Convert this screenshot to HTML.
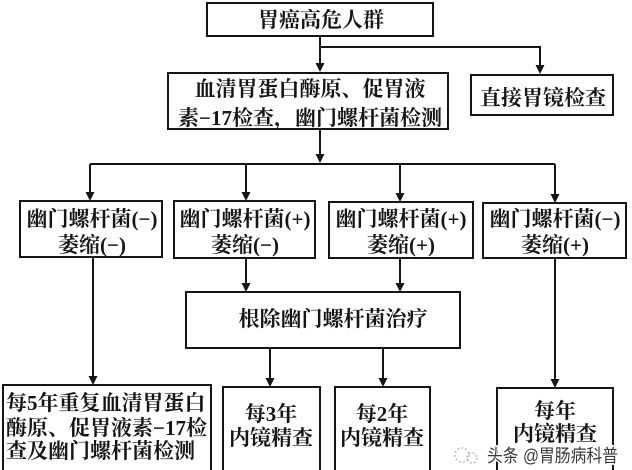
<!DOCTYPE html>
<html>
<head>
<meta charset="utf-8">
<style>
  html, body { margin: 0; padding: 0; background: #fff; }
  body { width: 632px; height: 470px; overflow: hidden; }
  svg { display: block; }
  .t { font-family: "Liberation Serif", "Noto Serif CJK SC", serif; font-size: 21px; font-weight: 700; fill: #151515; }
  .wm { font-family: "Liberation Sans", "Noto Sans CJK SC", sans-serif; font-size: 18px; fill: #3a3a3a; stroke: #fff; stroke-width: 3px; paint-order: stroke; }
</style>
</head>
<body>
<svg width="632" height="470" viewBox="0 0 632 470" xmlns="http://www.w3.org/2000/svg">
  <g fill="none" stroke="#151515" stroke-width="2">
    <!-- boxes -->
    <rect x="207" y="3" width="226" height="33"/>
    <rect x="168" y="73" width="280" height="56"/>
    <rect x="471" y="75" width="142" height="40"/>
    <rect x="20" y="201" width="142" height="56"/>
    <rect x="174" y="201" width="141" height="57"/>
    <rect x="329" y="202" width="144" height="56"/>
    <rect x="483" y="203" width="143" height="55"/>
    <rect x="186" y="292" width="274" height="56"/>
    <rect x="3" y="385" width="208" height="100"/>
    <rect x="223" y="387" width="97" height="100"/>
    <rect x="335" y="387" width="95" height="100"/>
    <rect x="497" y="388" width="116" height="100"/>
    <!-- connectors -->
    <line x1="320" y1="36" x2="320" y2="66"/>
    <polyline points="320,47 540,47 540,68"/>
    <line x1="320" y1="129" x2="320" y2="157"/>
    <line x1="90" y1="164" x2="555" y2="164"/>
    <line x1="90" y1="164" x2="90" y2="195"/>
    <line x1="246" y1="164" x2="246" y2="195"/>
    <line x1="400" y1="164" x2="400" y2="196"/>
    <line x1="555" y1="164" x2="555" y2="197"/>
    <line x1="246" y1="258" x2="246" y2="286"/>
    <line x1="400" y1="258" x2="400" y2="286"/>
    <line x1="270" y1="348" x2="270" y2="381"/>
    <line x1="383" y1="348" x2="383" y2="381"/>
    <line x1="93" y1="257" x2="93" y2="379"/>
    <line x1="555" y1="258" x2="555" y2="382"/>
  </g>
  <g fill="#151515">
    <polygon points="320,72 315.5,63 324.5,63"/>
    <polygon points="540,74 535.5,65 544.5,65"/>
    <polygon points="320,163 315.5,154 324.5,154"/>
    <polygon points="90,201 85.5,192 94.5,192"/>
    <polygon points="246,201 241.5,192 250.5,192"/>
    <polygon points="400,202 395.5,193 404.5,193"/>
    <polygon points="555,203 550.5,194 559.5,194"/>
    <polygon points="246,292 241.5,283 250.5,283"/>
    <polygon points="400,292 395.5,283 404.5,283"/>
    <polygon points="270,387 265.5,378 274.5,378"/>
    <polygon points="383,387 378.5,378 387.5,378"/>
    <polygon points="93,385 88.5,376 97.5,376"/>
    <polygon points="555,388 550.5,379 559.5,379"/>
  </g>
  <!-- labels -->
  <text class="t" x="321" y="27" text-anchor="middle">胃癌高危人群</text>
  <text class="t" x="310" y="96" text-anchor="middle">血清胃蛋白酶原、促胃液</text>
  <text class="t" x="310" y="125" text-anchor="middle">素−17检查，幽门螺杆菌检测</text>
  <text class="t" x="543" y="105" text-anchor="middle">直接胃镜检查</text>

  <text class="t" x="92" y="226" text-anchor="middle">幽门螺杆菌(−)</text>
  <text class="t" x="92" y="252" text-anchor="middle">萎缩(−)</text>
  <text class="t" x="245" y="226" text-anchor="middle">幽门螺杆菌(+)</text>
  <text class="t" x="245" y="252" text-anchor="middle">萎缩(−)</text>
  <text class="t" x="401" y="226" text-anchor="middle">幽门螺杆菌(+)</text>
  <text class="t" x="401" y="252" text-anchor="middle">萎缩(+)</text>
  <text class="t" x="555" y="226" text-anchor="middle">幽门螺杆菌(−)</text>
  <text class="t" x="555" y="252" text-anchor="middle">萎缩(+)</text>

  <text class="t" x="333" y="326" text-anchor="middle">根除幽门螺杆菌治疗</text>

  <text class="t" x="6" y="410">每5年重复血清胃蛋白</text>
  <text class="t" x="6" y="435">酶原、促胃液素−17检</text>
  <text class="t" x="6" y="458">查及幽门螺杆菌检测</text>

  <text class="t" x="271" y="421" text-anchor="middle">每3年</text>
  <text class="t" x="271" y="445" text-anchor="middle">内镜精查</text>
  <text class="t" x="382" y="421" text-anchor="middle">每2年</text>
  <text class="t" x="382" y="445" text-anchor="middle">内镜精查</text>
  <text class="t" x="555" y="418" text-anchor="middle">每年</text>
  <text class="t" x="555" y="441" text-anchor="middle">内镜精查</text>

  <!-- watermark -->
  <g fill="none" stroke="#bbb" stroke-width="1.5" stroke-dasharray="2 2">
    <circle cx="462" cy="455" r="7"/>
    <circle cx="472" cy="458" r="5"/>
  </g>
  <text class="wm" x="487" y="462" textLength="131" lengthAdjust="spacingAndGlyphs">头条 @胃肠病科普</text>
</svg>
</body>
</html>
